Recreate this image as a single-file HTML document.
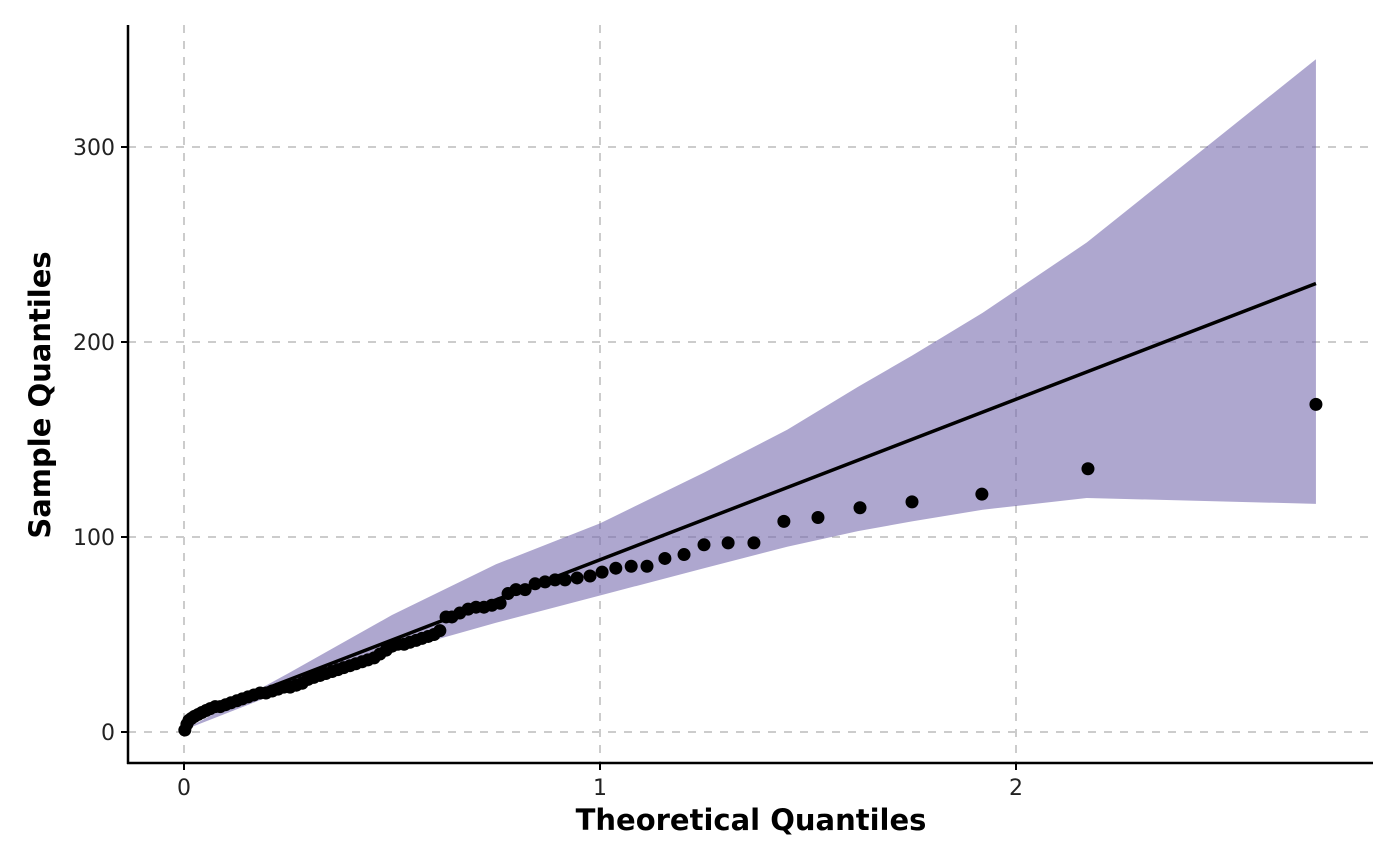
<!DOCTYPE html>
<html><head><meta charset="utf-8"><style>
body{margin:0;background:#fff}
svg{display:block;font-family:"DejaVu Sans","Liberation Sans",sans-serif}
</style></head><body>
<svg id="chart" width="1400" height="866"></svg>
<script>
const xTicks=[0,1,2];
const yTicks=[0,100,200,300];
const theoX=[0.002,0.007,0.012,0.018,0.025,0.034,0.043,0.053,0.063,0.075,0.087,0.1,0.113,0.127,0.14,0.154,0.168,0.183,0.197,0.212,0.226,0.24,0.255,0.27,0.284,0.298,0.312,0.327,0.341,0.356,0.37,0.384,0.399,0.413,0.428,0.442,0.457,
0.471,0.486,0.5,0.514,0.529,0.543,0.558,0.572,0.587,0.601,0.615,0.630,0.644,0.663,0.683,0.702,0.721,0.740,0.76,0.779,0.798,0.82,0.844,0.868,0.892,0.916,0.945,0.976,1.005,1.038,1.075,1.113,1.156,1.202,1.25,1.308,1.370,1.442,1.524,1.625,1.75,1.918,2.173,2.721];
const sampleY=[1,4,6,7,8,9,10,11,12,13,13,14,15,16,17,18,19,20,20,21,22,23,23,24,25,27,28,29,30,31,32,33,34,35,36,37,38,
40,42,44,45,45,46,47,48,49,50,52,59,59,61,63,64,64,65,66,71,73,73,76,77,78,78,79,80,82,84,85,85,89,91,96,97,97,108,110,115,118,122,135,168];
const bandX=[0,0.25,0.5,0.75,1.0,1.25,1.45,1.62,1.75,1.92,2.17,2.721];
const bandUpper=[1,30,60,86,107,133,155,177,193,215,251,345];
const bandLower=[1,22,41,56,70,84,95,103,108,114,120,117];
const lineX=[0,2.721];
const lineY=[6,230];

const NS="http://www.w3.org/2000/svg";
const svg=document.getElementById('chart');
const sx=v=>184+v*416;
const sy=v=>732-v*1.95;
function mk(tag,attrs,parent){const e=document.createElementNS(NS,tag);for(const k in attrs)e.setAttribute(k,attrs[k]);(parent||svg).appendChild(e);return e;}

xTicks.forEach(t=>{
  const g=mk('line',{x1:sx(t),x2:sx(t),y1:25,y2:763,stroke:'#cccccc','stroke-width':2,'stroke-dasharray':'8,8'});
  
  
});
yTicks.forEach(t=>{
  const g=mk('line',{x1:128,x2:1373,y1:sy(t),y2:sy(t),stroke:'#cccccc','stroke-width':2,'stroke-dasharray':'8,8'});
  
  
});

let pts=bandX.map((x,i)=>sx(x)+','+sy(bandUpper[i]));
for(let i=bandX.length-1;i>=0;i--)pts.push(sx(bandX[i])+','+sy(bandLower[i]));
const band=mk('polygon',{points:pts.join(' '),fill:'#7468ad','fill-opacity':0.58});



const ln=mk('line',{x1:sx(lineX[0]),y1:sy(lineY[0]),x2:sx(lineX[1]),y2:sy(lineY[1]),stroke:'#000','stroke-width':3.5});



theoX.forEach((x,i)=>{
  const c=mk('circle',{cx:sx(x),cy:sy(sampleY[i]),r:6.5,fill:'#000'});
  
  
});

const ya=mk('line',{x1:128,x2:128,y1:25,y2:764,stroke:'#000','stroke-width':2.5});


const xa=mk('line',{x1:127,x2:1373,y1:763,y2:763,stroke:'#000','stroke-width':2.5});



xTicks.forEach(t=>{
  const tk=mk('line',{x1:sx(t),x2:sx(t),y1:763,y2:770,stroke:'#000','stroke-width':2});
  
  
  const tx=mk('text',{x:sx(t),y:795,'text-anchor':'middle','font-size':22,fill:'#222'});
  tx.textContent=t;
  
  
});
yTicks.forEach(t=>{
  const tk=mk('line',{x1:121,x2:128,y1:sy(t),y2:sy(t),stroke:'#000','stroke-width':2});
  
  
  const tx=mk('text',{x:115,y:sy(t)+8,'text-anchor':'end','font-size':22,fill:'#222'});
  tx.textContent=t;
  
  
});
</script>
<svg style="position:absolute;left:0;top:0" width="1400" height="866">
<text x="751" y="830" text-anchor="middle" font-size="29" font-weight="bold" font-family="DejaVu Sans, Liberation Sans, sans-serif">Theoretical Quantiles</text>
<text transform="translate(50,395) rotate(-90)" text-anchor="middle" font-size="29" font-weight="bold" font-family="DejaVu Sans, Liberation Sans, sans-serif">Sample Quantiles</text>
</svg>
</body></html>
